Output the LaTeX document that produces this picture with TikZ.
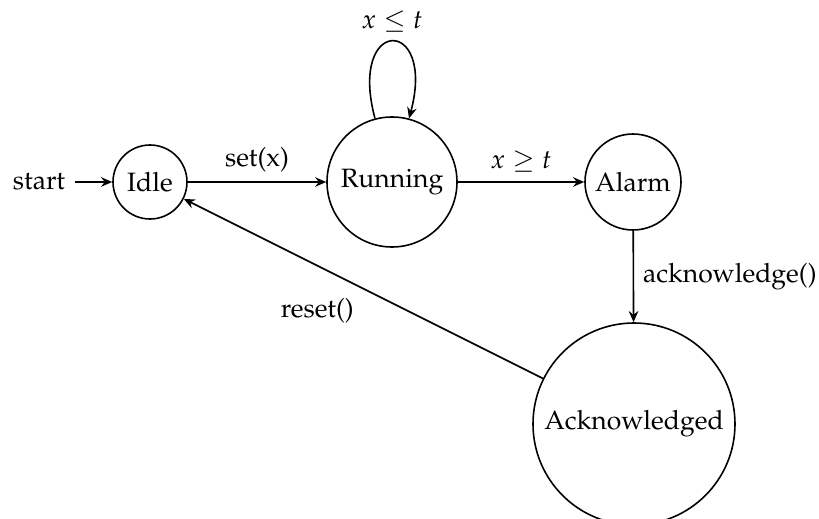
\documentclass[tikz,border=0pt]{standalone}
\usepackage[T1]{fontenc}
\usepackage{mathpazo}
\usetikzlibrary{arrows.meta}
\begin{document}
\begin{tikzpicture}[x=0.377pt,y=0.377pt,
  state/.style={draw,circle,semithick,inner sep=0pt},
  edgearrow/.style={semithick,-{Stealth[length=4.2pt,width=3.6pt,inset=1.4pt]}}]
\useasboundingbox (0,0) rectangle (819,-519);
\node[state,minimum size=74*0.377pt] (idle) at (150,-182) {Idle};
\node[state,minimum size=130*0.377pt] (run) at (392,-182) {Running};
\node[state,minimum size=96*0.377pt] (alarm) at (633,-182) {Alarm};
\node[state,minimum size=202*0.377pt] (ack) at (634,-424) {Acknowledged};
\node (start) at (39,-182) {start};
\draw[edgearrow] (start) -- (idle);
\draw[edgearrow] (idle) -- node[above] {set(x)} (run);
\draw[edgearrow] (run) to[out=105,in=75,looseness=8] node[above] {$x \leq t$} (run);
\draw[edgearrow] (run) -- node[above] {$x \geq t$} (alarm);
\draw[edgearrow] (alarm) -- node[right] {acknowledge()} (ack);
\draw[edgearrow] (ack) -- node[anchor=north east] {reset()} (idle);
\end{tikzpicture}
\end{document}
